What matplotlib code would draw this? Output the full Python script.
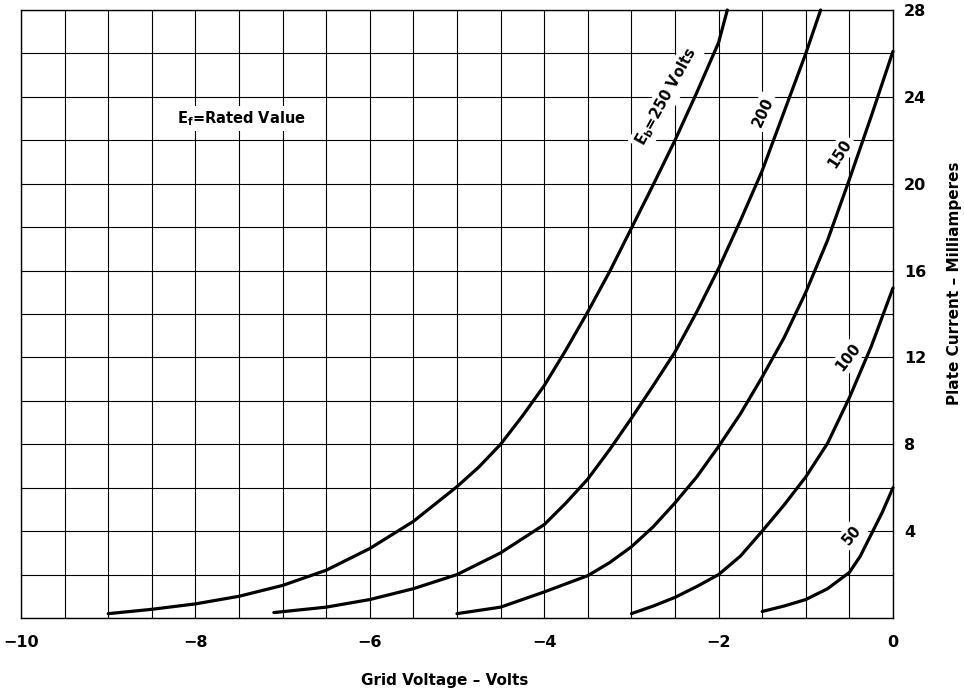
import matplotlib
matplotlib.use("Agg")
import matplotlib.pyplot as plt
import numpy as np

plt.rcParams['font.family'] = ['DejaVu Sans']
plt.rcParams['mathtext.fontset'] = 'dejavusans'

# ---- data (grid voltage in V, plate current in mA) ----
x_250 = [-9.0, -8.5, -8.0, -7.5, -7.0, -6.5, -6.0, -5.5, -5.0, -4.75, -4.5, -4.25, -4.0,
         -3.75, -3.5, -3.25, -3.0, -2.75, -2.5, -2.25, -2.0, -1.9]
y_250 = [0.2, 0.4, 0.65, 1.0, 1.5, 2.2, 3.2, 4.45, 6.05, 6.95, 8.0, 9.3, 10.7,
         12.35, 14.1, 15.95, 17.95, 19.95, 22.0, 24.2, 26.5, 28.0]

x_200 = [-7.1, -6.5, -6.0, -5.5, -5.0, -4.5, -4.0, -3.75, -3.5, -3.25, -3.0, -2.75, -2.5,
         -2.25, -2.0, -1.75, -1.5, -1.25, -1.0, -0.83]
y_200 = [0.25, 0.5, 0.85, 1.35, 2.0, 3.0, 4.3, 5.3, 6.4, 7.75, 9.2, 10.7, 12.25,
         14.1, 16.1, 18.3, 20.6, 23.3, 26.0, 28.0]

x_150 = [-5.0, -4.5, -4.0, -3.5, -3.25, -3.0, -2.75, -2.5, -2.25, -2.0, -1.75, -1.5, -1.25,
         -1.0, -0.75, -0.5, -0.25, 0.0]
y_150 = [0.2, 0.5, 1.2, 1.95, 2.55, 3.28, 4.2, 5.3, 6.5, 7.9, 9.4, 11.1, 12.9,
         15.0, 17.4, 20.2, 23.1, 26.1]

x_100 = [-3.0, -2.75, -2.5, -2.25, -2.0, -1.75, -1.5, -1.25, -1.0, -0.75, -0.5, -0.25, 0.0]
y_100 = [0.2, 0.55, 0.95, 1.45, 2.0, 2.85, 4.0, 5.2, 6.5, 8.05, 10.15, 12.5, 15.2]

x_50 = [-1.5, -1.25, -1.0, -0.75, -0.5, -0.375, -0.25, -0.125, 0.0]
y_50 = [0.3, 0.55, 0.85, 1.35, 2.1, 2.85, 3.85, 4.85, 6.0]

x_ticks = [-10, -8, -6, -4, -2, 0]
x_tick_labels = ["\u221210", "\u22128", "\u22126", "\u22124", "\u22122", "0"]
y_ticks = [4, 8, 12, 16, 20, 24, 28]

fig = plt.figure(figsize=(9.64, 6.92), dpi=100)
ax = fig.add_axes([21/964, 1 - 618/692, (893-21)/964, (618-10)/692])
ax.set_xlim(-10, 0)
ax.set_ylim(0, 28)

# grid
for gx in np.arange(-10, 0.01, 0.5):
    ax.axvline(gx, color='black', lw=0.8, zorder=1)
for gy in np.arange(0, 28.01, 2):
    ax.axhline(gy, color='black', lw=0.8, zorder=1)
for s in ax.spines.values():
    s.set_linewidth(1.0)

for xs, ys in [(x_250, y_250), (x_200, y_200), (x_150, y_150), (x_100, y_100), (x_50, y_50)]:
    ax.plot(xs, ys, color='black', lw=2.3, solid_joinstyle='round',
            solid_capstyle='round', zorder=3, clip_on=False)

ax.set_xticks(x_ticks)
ax.set_xticklabels(x_tick_labels, fontsize=11.5, fontweight='bold')
ax.yaxis.tick_right()
ax.set_yticks(y_ticks)
ax.set_yticklabels([str(v) for v in y_ticks], fontsize=11.5, fontweight='bold')
ax.tick_params(axis='x', length=0, pad=12)
ax.tick_params(axis='y', length=0, pad=8)

bb = dict(boxstyle='square,pad=0.2', fc='white', ec='none')
ax.text(-7.47, 23.0, r"E$_{\mathbf{f}}$=Rated Value", fontsize=10.5, fontweight='bold',
        ha='center', va='center', bbox=bb, zorder=4)
ax.text(-2.6, 24.0, r"E$_{\mathbf{b}}$=250 Volts", fontsize=10.5, fontweight='bold',
        ha='center', va='center', rotation=61, rotation_mode='anchor', bbox=bb, zorder=4)
ax.text(-1.49, 23.3, "200", fontsize=10.5, fontweight='bold', ha='center', va='center',
        rotation=65, rotation_mode='anchor', bbox=bb, zorder=4)
ax.text(-0.61, 21.4, "150", fontsize=10.5, fontweight='bold', ha='center', va='center',
        rotation=57, rotation_mode='anchor', bbox=bb, zorder=4)
ax.text(-0.51, 12.0, "100", fontsize=10.5, fontweight='bold', ha='center', va='center',
        rotation=52, rotation_mode='anchor', bbox=bb, zorder=4)
ax.text(-0.47, 3.82, "50", fontsize=10.5, fontweight='bold', ha='center', va='center',
        rotation=50, rotation_mode='anchor', bbox=bb, zorder=4)

fig.text(445/964, 1 - 680/692, "Grid Voltage \u2013 Volts", fontsize=11, fontweight='bold',
         ha='center', va='center')
fig.text(955/964, 1 - 283/692, "Plate Current \u2013 Milliamperes", fontsize=11,
         fontweight='bold', ha='center', va='center', rotation=90)

fig.savefig("out.png", dpi=100)
